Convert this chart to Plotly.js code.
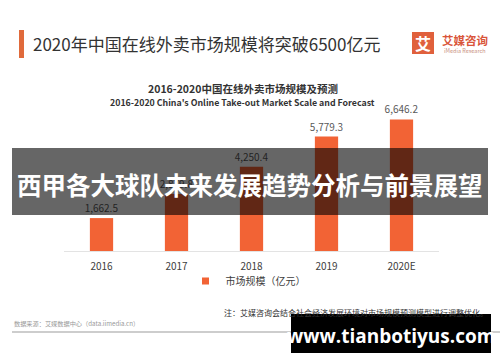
<!DOCTYPE html>
<html><head><meta charset="utf-8">
<script src="https://cdn.plot.ly/plotly-3.0.1.min.js"></script>
<style>html,body{margin:0;padding:0;background:#fff;}#c{width:500px;height:362px;}</style>
</head><body><div id="c"></div>
<script>
const years = ['2016', '2017', '2018', '2019', '2020E'];
const marketScale = [1662.5, 2879.8, 4250.4, 5779.3, 6646.2];
const seriesName = '市场规模（亿元）';
const pageTitle = '2020年中国在线外卖市场规模将突破6500亿元';
const chartTitle = '2016-2020中国在线外卖市场规模及预测';
const chartSubtitle = "2016-2020 China's Online Take-out Market Scale and Forecast";
const overlayText = '西甲各大球队未来发展趋势分析与前景展望';
const noteText = '注：艾媒咨询会结合社会经济发展环境对市场规模预测模型进行调整优化。';
const sourceText = '数据来源：艾媒数据中心（data.iimedia.cn）';
const urlText = 'www.tianbotiyus.com';

const W = 500, H = 362, ML = 64, MR = 61, MT = 112, MB = 111;
const PW = W - ML - MR, PH = H - MT - MB;
const px = v => (v - ML) / PW;
const py = v => (H - MB - v) / PH;
const CJK = '"Noto Sans CJK SC", "Noto Sans", sans-serif';
const ORANGE = '#F26335';

const traces = [
  {
    type: 'bar', x: years, y: marketScale, marker: {color: ORANGE},
    text: marketScale.map(v => v.toLocaleString('en-US', {minimumFractionDigits: 1, maximumFractionDigits: 1})),
    textposition: 'outside', cliponaxis: false, constraintext: 'none',
    textfont: {family: CJK, size: 10, color: '#595959'},
    showlegend: false, hoverinfo: 'none'
  },
  {
    type: 'scatter', mode: 'markers', x: [null], y: [null], name: seriesName,
    marker: {symbol: 'square', size: 7, color: ORANGE}, showlegend: true
  }
];

const shapes = [
  {type: 'rect', xref: 'paper', yref: 'paper', x0: px(19), x1: px(24), y0: py(30), y1: py(58), fillcolor: '#E06A3B', line: {width: 0}},
  {type: 'rect', xref: 'paper', yref: 'paper', x0: px(412), x1: px(434), y0: py(32), y1: py(54), fillcolor: '#E0603C', line: {width: 0}},
  {type: 'line', xref: 'paper', yref: 'paper', x0: px(12), x1: px(500), y0: py(332), y1: py(332), line: {color: '#bdbdbd', width: 1.5}},
  {type: 'rect', xref: 'paper', yref: 'paper', x0: px(12), x1: px(488), y0: py(148), y1: py(215), fillcolor: 'rgba(0,0,0,0.6)', line: {width: 0}, layer: 'above'},
  {type: 'rect', xref: 'paper', yref: 'paper', x0: px(291), x1: px(491), y0: py(314), y1: py(353), fillcolor: '#000', line: {width: 0}, layer: 'above'}
];

const ann = (text, x, y, size, color, opts = {}) => Object.assign({
  text, xref: 'paper', yref: 'paper', x: px(x), y: py(y), showarrow: false,
  xanchor: 'center', yanchor: 'middle', font: {family: CJK, size, color}
}, opts);

const annotations = [
  ann(pageTitle, 31, 44, 17, '#333', {xanchor: 'left'}),
  ann('<b>艾</b>', 423, 43, 16, '#fff'),
  ann('<b>艾媒咨询</b>', 465, 40, 11.5, '#D9553A'),
  ann('iMedia Research', 465, 51, 5.5, '#C9907E'),
  ann('<b>' + chartTitle + '</b>', 243, 89, 10.5, '#333'),
  ann('<b>' + chartSubtitle + '</b>', 242, 102, 8.8, '#333'),
  ann('<b>' + overlayText + '</b>', 250, 184, 24.5, '#fff'),
  ann(noteText, 490, 312, 8, '#333', {xanchor: 'right'}),
  ann(sourceText, 12, 323, 6.2, '#999', {xanchor: 'left'}),
  ann('<b>' + urlText + '</b>', 391, 336, 19, '#fff', {font: {family: '"Open Sans", "Liberation Sans", sans-serif', size: 19, color: '#fff'}})
];

const layout = {
  width: W, height: H, margin: {l: ML, r: MR, t: MT, b: MB},
  paper_bgcolor: '#fff', plot_bgcolor: '#fff',
  bargap: 0.69,
  xaxis: {type: 'category', range: [-0.5, 4.5], showgrid: false, zeroline: false, showline: true,
    linecolor: '#e3e3e3', linewidth: 1, ticks: '', ticklabelstandoff: 6,
    tickfont: {family: CJK, size: 10, color: '#404040'}, fixedrange: true},
  yaxis: {range: [0, 7020], visible: false, fixedrange: true},
  showlegend: true,
  legend: {orientation: 'h', x: px(248), xanchor: 'center', y: py(281), yanchor: 'middle',
    font: {family: CJK, size: 10, color: '#404040'}, bgcolor: 'rgba(0,0,0,0)'},
  shapes, annotations
};

Plotly.newPlot('c', traces, layout, {staticPlot: true, displayModeBar: false});
</script></body></html>
